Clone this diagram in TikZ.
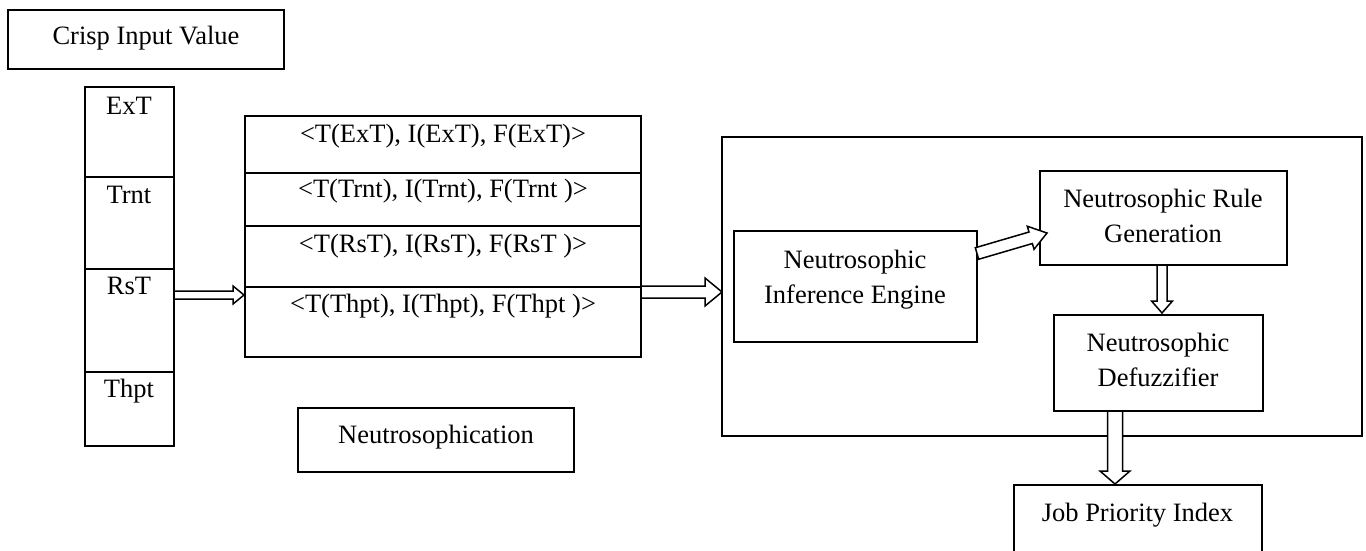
\documentclass[tikz,border=0pt]{standalone}
\usepackage{fontspec}
\setmainfont{Liberation Serif}
\usetikzlibrary{calc}
\tikzset{
  box/.style={draw, line width=2pt, inner sep=0pt, outer sep=0pt},
  thinbox/.style={draw, line width=1.5pt, inner sep=0pt, outer sep=0pt},
  lbl/.style={inner sep=0pt, outer sep=0pt, align=center},
  barrow/.style={draw, fill=white, line width=1.5pt, line join=miter},
}
% block arrow: #1 start, #2 tip, #3 shaft half-width, #4 head half-width, #5 head length (all pt)
\newcommand{\blockarr}[5]{%
  \draw[barrow] let \p1=(#1), \p2=(#2),
      \n1={atan2(\y2-\y1,\x2-\x1)}, \n2={veclen(\x2-\x1,\y2-\y1)} in
    [shift={(\p1)}, rotate=\n1]
    (0pt,{#3*1pt}) -- ({(\n2-#5)*1pt},{#3*1pt}) -- ({(\n2-#5)*1pt},{#4*1pt})
    -- ({\n2*1pt},0pt) -- ({(\n2-#5)*1pt},{-#4*1pt}) -- ({(\n2-#5)*1pt},{-#3*1pt})
    -- (0pt,{-#3*1pt}) -- cycle;
}
\begin{document}
\begin{tikzpicture}[x=1pt, y=-1pt, font=\fontsize{26.5}{35}\selectfont]
\useasboundingbox (0,0) rectangle (1366,551);

% Crisp input
\node[thinbox, minimum width=276pt, minimum height=59pt] (crisp) at (146,39.5) {};
\node[lbl, anchor=base] (crispt) at (146,45) {Crisp Input Value};

% left column
\node[box, minimum width=89pt, minimum height=90pt]  (c1) at (129.5,132) {};
\node[box, minimum width=89pt, minimum height=92pt]  (c2) at (129.5,223) {};
\node[box, minimum width=89pt, minimum height=103pt] (c3) at (129.5,320.5) {};
\node[box, minimum width=89pt, minimum height=74pt]  (c4) at (129.5,409) {};
\node[lbl, anchor=base] (t1) at (129,114) {ExT};
\node[lbl, anchor=base] (t2) at (129,203) {Trnt};
\node[lbl, anchor=base] (t3) at (129,294) {RsT};
\node[lbl, anchor=base] (t4) at (129,397) {Thpt};

% middle rows
\node[box, minimum width=396pt, minimum height=57pt] (r1) at (443,144.5) {};
\node[box, minimum width=396pt, minimum height=53pt] (r2) at (443,199.5) {};
\node[box, minimum width=396pt, minimum height=61pt] (r3) at (443,256.5) {};
\node[box, minimum width=396pt, minimum height=70pt] (r4) at (443,322) {};
\node[lbl, anchor=base] (m1) at (443,142) {<T(ExT), I(ExT), F(ExT)>};
\node[lbl, anchor=base] (m2) at (443,197) {<T(Trnt), I(Trnt), F(Trnt )>};
\node[lbl, anchor=base] (m3) at (443,252) {<T(RsT), I(RsT), F(RsT )>};
\node[lbl, anchor=base] (m4) at (443,312) {<T(Thpt), I(Thpt), F(Thpt )>};

% Neutrosophication
\node[thinbox, minimum width=276pt, minimum height=64pt] (neu) at (436,440) {};
\node[lbl, anchor=base] (neut) at (436,443) {Neutrosophication};

% big box
\node[box, minimum width=640pt, minimum height=299pt] (big) at (1042,286.5) {};

% inner boxes
\node[box, minimum width=243pt, minimum height=111pt] (ie) at (855.5,286.5) {};
\node[lbl] (iet) at (855,279.4) {Neutrosophic\\Inference Engine};
\node[box, minimum width=247pt, minimum height=94pt] (rg) at (1163.5,218) {};
\node[lbl] (rgt) at (1163,215.5) {Neutrosophic Rule\\Generation};
\node[box, minimum width=209pt, minimum height=96pt] (df) at (1158.5,363) {};
\node[lbl] (dft) at (1158,359.5) {Neutrosophic\\Defuzzifier};
\node[box, minimum width=248pt, minimum height=80pt] (jb) at (1138,525) {};
\node[lbl, anchor=base] (jbt) at (1137.5,521) {Job Priority Index};

% arrows
\coordinate (a1s) at ($(c3.east)+(0,-25.5)$);
\coordinate (a1e) at ($(r4.west |- a1s)+(-1,0)$);
\blockarr{a1s}{a1e}{4}{9}{11}

\coordinate (a2s) at ($(r4.east)+(0,-30)$);
\coordinate (a2e) at (big.west |- a2s);
\blockarr{a2s}{a2e}{6}{14}{17}

\coordinate (a3s) at ($(ie.east)+(0,-33)$);
\coordinate (a3e) at ($(rg.west)+(7,15)$);
\blockarr{a3s}{a3e}{6}{12}{17}

\coordinate (a4s) at ($(rg.south)+(-1.5,0)$);
\coordinate (a4e) at ($(df.north -| a4s)+(0,-2)$);
\blockarr{a4s}{a4e}{5}{10.5}{12}

\coordinate (a5s) at ($(df.south)+(-43.5,0)$);
\coordinate (a5e) at ($(jb.north -| a5s)+(0,-1)$);
\blockarr{a5s}{a5e}{7.5}{15}{13}
\end{tikzpicture}
\end{document}
